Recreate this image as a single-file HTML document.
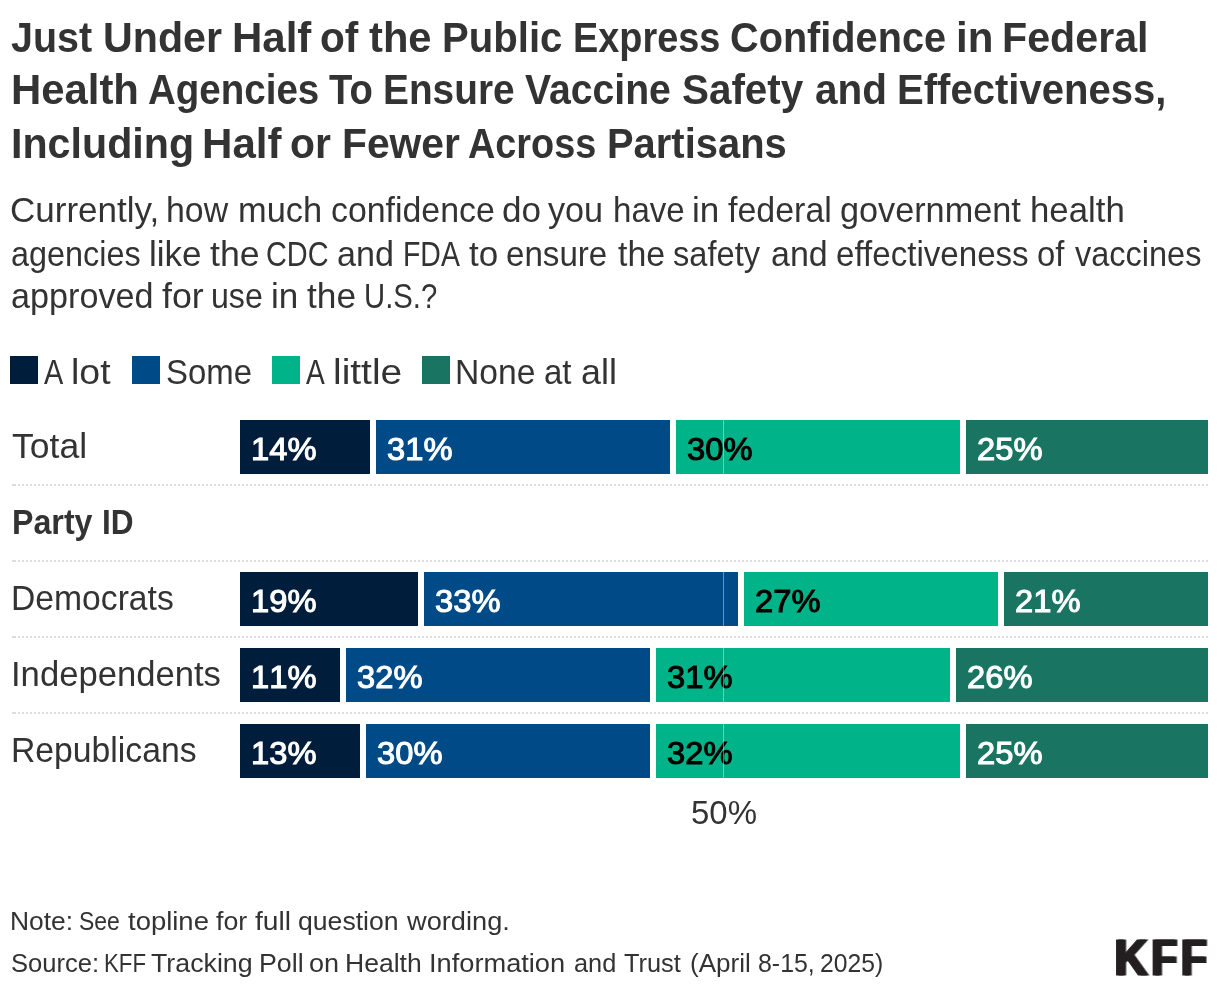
<!DOCTYPE html>
<html lang="en"><head><meta charset="utf-8"><title>KFF: Confidence in Federal Health Agencies To Ensure Vaccine Safety and Effectiveness</title>
<style>
html,body{margin:0;padding:0;background:#fff;}
body{width:1220px;height:992px;position:relative;overflow:hidden;font-family:"Liberation Sans",sans-serif;color:#333;}
h1,p{margin:0;font:inherit;}
.t{position:absolute;display:block;white-space:nowrap;transform-origin:0 0;line-height:1;margin:0;font-weight:400;}
.ln{left:0;width:1220px;}
.ln span{position:absolute;top:0;transform-origin:0 0;white-space:nowrap;}
.h{font-size:42px;font-weight:700;height:42px;}
.d,.lg,.rl{font-size:34.5px;height:34.5px;}
.b{font-weight:700;}
.ft{font-size:26.5px;height:26.5px;}
.sw{position:absolute;top:356px;width:28px;height:28px;}
.seg{position:absolute;height:54px;}
.v{position:absolute;font-kerning:none;font-weight:400;-webkit-text-stroke:1.05px currentColor;paint-order:stroke fill;white-space:nowrap;line-height:1;transform-origin:0 0;}
.sep{position:absolute;left:12px;width:1196px;height:2px;background:linear-gradient(#dcdcdc,#dcdcdc) 0 0/2px 2px no-repeat,repeating-linear-gradient(90deg,#dcdcdc 0,#dcdcdc 2px,transparent 2px,transparent 4px) 2px 0/1194px 2px no-repeat;}
.grid{position:absolute;left:723px;width:1px;height:54px;background:rgba(255,255,255,.4);}
.logo{position:absolute;left:0;top:0;}
</style></head><body>
<header>
<h1>
<span class="t ln h" style="top:16.80px"><span style="left:11.10px;transform:scaleX(0.9390)">Just</span> <span style="left:103.17px;transform:scaleX(0.9807)">Under</span> <span style="left:232.37px;transform:scaleX(1.0002)">Half</span> <span style="left:320.23px;transform:scaleX(0.9666)">of</span> <span style="left:368.80px;transform:scaleX(0.9927)">the</span> <span style="left:442.49px;transform:scaleX(0.9554)">Public</span> <span style="left:572.83px;transform:scaleX(0.9012)">Express</span> <span style="left:730.16px;transform:scaleX(0.9446)">Confidence</span> <span style="left:955.77px;transform:scaleX(1.0008)">in</span> <span style="left:1002.43px;transform:scaleX(0.9806)">Federal</span></span>
<span class="t ln h" style="top:68.80px"><span style="left:10.78px;transform:scaleX(0.9967)">Health</span> <span style="left:148.30px;transform:scaleX(0.9171)">Agencies</span> <span style="left:329.20px;transform:scaleX(0.9097)">To</span> <span style="left:383.47px;transform:scaleX(0.9242)">Ensure</span> <span style="left:524.90px;transform:scaleX(0.9323)">Vaccine</span> <span style="left:681.67px;transform:scaleX(0.9620)">Safety</span> <span style="left:814.57px;transform:scaleX(0.9645)">and</span> <span style="left:896.50px;transform:scaleX(0.9536)">Effectiveness,</span></span>
<span class="t ln h" style="top:122.80px"><span style="left:10.72px;transform:scaleX(0.9810)">Including</span> <span style="left:201.87px;transform:scaleX(1.0015)">Half</span> <span style="left:290.22px;transform:scaleX(0.9727)">or</span> <span style="left:342.25px;transform:scaleX(0.9715)">Fewer</span> <span style="left:468.31px;transform:scaleX(0.9004)">Across</span> <span style="left:606.51px;transform:scaleX(0.9503)">Partisans</span></span>
</h1>
<p>
<span class="t ln d" style="top:193.05px"><span style="left:10.06px;transform:scaleX(1.0148)">Currently,</span> <span style="left:165.68px;transform:scaleX(0.9811)">how</span> <span style="left:237.85px;transform:scaleX(0.9965)">much</span> <span style="left:330.74px;transform:scaleX(0.9812)">confidence</span> <span style="left:501.90px;transform:scaleX(1.0168)">do</span> <span style="left:548.10px;transform:scaleX(0.9909)">you</span> <span style="left:612.73px;transform:scaleX(0.9585)">have</span> <span style="left:692.01px;transform:scaleX(1.0147)">in</span> <span style="left:728.30px;transform:scaleX(0.9842)">federal</span> <span style="left:839.93px;transform:scaleX(0.9921)">government</span> <span style="left:1030.43px;transform:scaleX(1.0077)">health</span></span>
<span class="t ln d" style="top:237.05px"><span style="left:10.89px;transform:scaleX(0.9386)">agencies</span> <span style="left:149.21px;transform:scaleX(1.0160)">like</span> <span style="left:209.70px;transform:scaleX(1.0350)">the</span> <span style="left:265.95px;transform:scaleX(0.8368)">CDC</span> <span style="left:336.93px;transform:scaleX(0.9881)">and</span> <span style="left:402.68px;transform:scaleX(0.8244)">FDA</span> <span style="left:468.80px;transform:scaleX(1.0152)">to</span> <span style="left:506.07px;transform:scaleX(0.9600)">ensure</span> <span style="left:617.50px;transform:scaleX(0.9813)">the</span> <span style="left:672.99px;transform:scaleX(0.9453)">safety</span> <span style="left:770.74px;transform:scaleX(0.9845)">and</span> <span style="left:835.67px;transform:scaleX(0.9598)">effectiveness</span> <span style="left:1037.47px;transform:scaleX(0.9525)">of</span> <span style="left:1075.40px;transform:scaleX(0.9418)">vaccines</span></span>
<span class="t ln d" style="top:279.05px"><span style="left:10.83px;transform:scaleX(0.9903)">approved</span> <span style="left:161.60px;transform:scaleX(1.0375)">for</span> <span style="left:211.29px;transform:scaleX(0.9314)">use</span> <span style="left:270.71px;transform:scaleX(1.0147)">in</span> <span style="left:307.00px;transform:scaleX(1.0221)">the</span> <span style="left:364.07px;transform:scaleX(0.8489)">U.S.?</span></span>
</p>
</header>
<div class="legend">
<span class="sw" style="left:10px;background:#001e3c"></span><span class="t ln lg" style="top:355.05px"><span style="left:43.90px;transform:scaleX(0.8368)">A</span> <span style="left:71.06px;transform:scaleX(1.0872)">lot</span></span>
<span class="sw" style="left:132px;background:#004b87"></span><span class="t lg" style="left:165.87px;top:355.05px;font-size:34.5px;font-weight:400;word-spacing:-2.04px;transform:scaleX(0.9538)">Some</span>
<span class="sw" style="left:272px;background:#00b388"></span><span class="t ln lg" style="top:355.05px"><span style="left:306.00px;transform:scaleX(0.8152)">A</span> <span style="left:332.67px;transform:scaleX(1.1279)">little</span></span>
<span class="sw" style="left:422px;background:#1a7462"></span><span class="t ln lg" style="top:355.05px"><span style="left:454.77px;transform:scaleX(0.9746)">None</span> <span style="left:543.57px;transform:scaleX(0.9561)">at</span> <span style="left:580.88px;transform:scaleX(1.0392)">all</span></span>
</div>
<main class="chart">
<div class="row">
<div class="t rl" style="left:12.24px;top:429.05px;font-size:34.5px;font-weight:400;word-spacing:-2.60px;transform:scaleX(1.0305)">Total</div>
<div class="seg" style="left:240px;top:420px;width:130px;background:#001e3c"><span class="v" style="left:11.18px;top:13.55px;font-size:31.5px;color:#ffffff;transform:scaleX(1.0384)">14%</span></div>
<div class="seg" style="left:376px;top:420px;width:294px;background:#004b87"><span class="v" style="left:11.18px;top:13.55px;font-size:31.5px;color:#ffffff;transform:scaleX(1.0384)">31%</span></div>
<div class="seg" style="left:676px;top:420px;width:284px;background:#00b388"><span class="v" style="left:11.18px;top:13.55px;font-size:31.5px;color:#000000;transform:scaleX(1.0384)">30%</span></div>
<div class="seg" style="left:966px;top:420px;width:242px;background:#1a7462"><span class="v" style="left:11.18px;top:13.55px;font-size:31.5px;color:#ffffff;transform:scaleX(1.0384)">25%</span></div>
<div class="grid" style="top:420px"></div>
<div class="sep" style="top:484px"></div>
</div>
<div class="row group">
<div class="t ln rl b" style="top:505.05px"><span style="left:11.79px;transform:scaleX(0.9327)">Party</span> <span style="left:102.33px;transform:scaleX(0.9150)">ID</span></div>
<div class="sep" style="top:560px"></div>
</div>
<div class="row">
<div class="t rl" style="left:11.27px;top:581.05px;font-size:34.5px;font-weight:400;word-spacing:-2.21px;transform:scaleX(0.9759)">Democrats</div>
<div class="seg" style="left:240px;top:572px;width:178px;background:#001e3c"><span class="v" style="left:11.18px;top:13.55px;font-size:31.5px;color:#ffffff;transform:scaleX(1.0384)">19%</span></div>
<div class="seg" style="left:424px;top:572px;width:314px;background:#004b87"><span class="v" style="left:11.18px;top:13.55px;font-size:31.5px;color:#ffffff;transform:scaleX(1.0384)">33%</span></div>
<div class="seg" style="left:744px;top:572px;width:254px;background:#00b388"><span class="v" style="left:11.18px;top:13.55px;font-size:31.5px;color:#000000;transform:scaleX(1.0384)">27%</span></div>
<div class="seg" style="left:1004px;top:572px;width:204px;background:#1a7462"><span class="v" style="left:11.18px;top:13.55px;font-size:31.5px;color:#ffffff;transform:scaleX(1.0384)">21%</span></div>
<div class="grid" style="top:572px"></div>
<div class="sep" style="top:636px"></div>
</div>
<div class="row">
<div class="t rl" style="left:11.19px;top:657.05px;font-size:34.5px;font-weight:400;word-spacing:-2.42px;transform:scaleX(1.0037)">Independents</div>
<div class="seg" style="left:240px;top:648px;width:100px;background:#001e3c"><span class="v" style="left:11.18px;top:13.55px;font-size:31.5px;color:#ffffff;transform:scaleX(1.0384)">11%</span></div>
<div class="seg" style="left:346px;top:648px;width:304px;background:#004b87"><span class="v" style="left:11.18px;top:13.55px;font-size:31.5px;color:#ffffff;transform:scaleX(1.0384)">32%</span></div>
<div class="seg" style="left:656px;top:648px;width:294px;background:#00b388"><span class="v" style="left:11.18px;top:13.55px;font-size:31.5px;color:#000000;transform:scaleX(1.0384)">31%</span></div>
<div class="seg" style="left:956px;top:648px;width:252px;background:#1a7462"><span class="v" style="left:11.18px;top:13.55px;font-size:31.5px;color:#ffffff;transform:scaleX(1.0384)">26%</span></div>
<div class="grid" style="top:648px"></div>
<div class="sep" style="top:712px"></div>
</div>
<div class="row">
<div class="t rl" style="left:11.27px;top:733.05px;font-size:34.5px;font-weight:400;word-spacing:-2.22px;transform:scaleX(0.9774)">Republicans</div>
<div class="seg" style="left:240px;top:724px;width:120px;background:#001e3c"><span class="v" style="left:11.18px;top:13.55px;font-size:31.5px;color:#ffffff;transform:scaleX(1.0384)">13%</span></div>
<div class="seg" style="left:366px;top:724px;width:284px;background:#004b87"><span class="v" style="left:11.18px;top:13.55px;font-size:31.5px;color:#ffffff;transform:scaleX(1.0384)">30%</span></div>
<div class="seg" style="left:656px;top:724px;width:304px;background:#00b388"><span class="v" style="left:11.18px;top:13.55px;font-size:31.5px;color:#000000;transform:scaleX(1.0384)">32%</span></div>
<div class="seg" style="left:966px;top:724px;width:242px;background:#1a7462"><span class="v" style="left:11.18px;top:13.55px;font-size:31.5px;color:#ffffff;transform:scaleX(1.0384)">25%</span></div>
<div class="grid" style="top:724px"></div>
</div>
<div class="axis"><span class="t ax" style="left:691.07px;top:795.30px;font-size:34px;font-weight:400;word-spacing:-2.03px;transform:scaleX(0.9699)">50%</span></div>
</main>
<footer>
<p><span class="t ln ft" style="top:908.05px"><span style="left:10.14px;transform:scaleX(0.9969)">Note:</span> <span style="left:79.08px;transform:scaleX(0.8662)">See</span> <span style="left:127.90px;transform:scaleX(1.0361)">topline</span> <span style="left:216.40px;transform:scaleX(1.0095)">for</span> <span style="left:255.10px;transform:scaleX(1.0640)">full</span> <span style="left:297.57px;transform:scaleX(1.0042)">question</span> <span style="left:406.83px;transform:scaleX(1.0266)">wording.</span></span></p>
<p><span class="t ln ft" style="top:950.05px"><span style="left:10.80px;transform:scaleX(0.9647)">Source:</span> <span style="left:104.26px;transform:scaleX(0.8403)">KFF</span> <span style="left:150.68px;transform:scaleX(1.0097)">Tracking</span> <span style="left:258.51px;transform:scaleX(1.0103)">Poll</span> <span style="left:308.76px;transform:scaleX(1.0196)">on</span> <span style="left:345.23px;transform:scaleX(1.0007)">Health</span> <span style="left:429.07px;transform:scaleX(1.0270)">Information</span> <span style="left:573.71px;transform:scaleX(0.9546)">and</span> <span style="left:624.20px;transform:scaleX(0.9565)">Trust</span> <span style="left:689.78px;transform:scaleX(0.9821)">(April</span> <span style="left:757.82px;transform:scaleX(0.9393)">8-15,</span> <span style="left:820.14px;transform:scaleX(0.9314)">2025)</span></span></p>
<svg class="logo" width="1220" height="992" viewBox="0 0 1220 992" role="img" aria-label="KFF"><text transform="translate(0,975.1) scale(0.845,1)" font-family="Liberation Sans, sans-serif" font-weight="700" font-size="49.6" fill="#231f20" stroke="#231f20" stroke-width="1" stroke-linejoin="miter" stroke-miterlimit="10" style="filter:drop-shadow(3.2px 0 0 #231f20)"><tspan x="1317.75" textLength="38.9" lengthAdjust="spacingAndGlyphs">K</tspan><tspan x="1361.18">F</tspan><tspan x="1396.45">F</tspan></text></svg>
</footer>
</body></html>
